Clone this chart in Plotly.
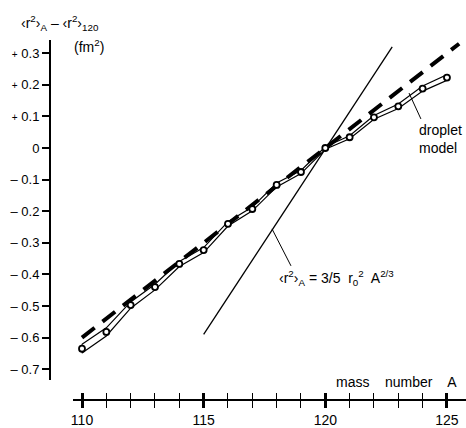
import plotly.graph_objects as go

# ---- data ----
mass_number = [110, 111, 112, 113, 114, 115, 116, 117, 118, 119, 120, 121, 122, 123, 124, 125]
delta_r2 = [-0.635, -0.582, -0.497, -0.440, -0.367, -0.323, -0.240, -0.193, -0.117, -0.076,
            0.000, 0.034, 0.097, 0.132, 0.188, 0.223]
err = [0.014, 0.013, 0.010, 0.009, 0.008, 0.008, 0.007, 0.006, 0.006, 0.005,
       0.004, 0.005, 0.006, 0.007, 0.008, 0.009]

droplet_x = [110, 125.5]
droplet_y = [-0.60, 0.33]

formula_x = [115, 122.75]
formula_y = [-0.59, 0.32]

leader_formula_x = [117.81, 118.59]
leader_formula_y = [-0.256, -0.373]
leader_droplet_x = [123.44, 123.93]
leader_droplet_y = [0.174, 0.092]

PLUS = "<span style='font-size:10px;fill:black;color:black'>+</span>"
y_ticks = [0.3, 0.2, 0.1, 0.0, -0.1, -0.2, -0.3, -0.4, -0.5, -0.6, -0.7]
y_ticktext = [PLUS + " 0.3", PLUS + " 0.2", PLUS + " 0.1", "0",
              "– 0.1", "– 0.2", "– 0.3", "– 0.4", "– 0.5", "– 0.6", "– 0.7"]
x_ticks = [110, 115, 120, 125]

FONT = "Liberation Sans"

# ---- layout geometry helpers (pixels -> paper) ----
W, H = 466, 428
ML, MR, MT, MB = 50, 0, 40, 28
PW, PH = W - ML - MR, H - MT - MB


def px(xp):
    return (xp - ML) / PW


def py(yp):
    return (H - MB - yp) / PH


fig = go.Figure()

upper = [v + e for v, e in zip(delta_r2, err)]
lower = [v - e for v, e in zip(delta_r2, err)]
band_x = mass_number + mass_number[::-1] + [mass_number[0]]
band_y = upper + lower[::-1] + [upper[0]]

# droplet model (thick dashed)
fig.add_trace(go.Scatter(x=droplet_x, y=droplet_y, mode="lines",
                         line=dict(color="black", width=4, dash="16px,10px"),
                         hoverinfo="skip", showlegend=False))
# r^2 = 3/5 r0^2 A^(2/3)
fig.add_trace(go.Scatter(x=formula_x, y=formula_y, mode="lines",
                         line=dict(color="black", width=1.3),
                         hoverinfo="skip", showlegend=False))
# leader lines
fig.add_trace(go.Scatter(x=leader_formula_x, y=leader_formula_y, mode="lines",
                         line=dict(color="black", width=1),
                         hoverinfo="skip", showlegend=False))
fig.add_trace(go.Scatter(x=leader_droplet_x, y=leader_droplet_y, mode="lines",
                         line=dict(color="black", width=1),
                         hoverinfo="skip", showlegend=False))
# error band
fig.add_trace(go.Scatter(x=band_x, y=band_y, mode="lines",
                         line=dict(color="black", width=1.2),
                         hoverinfo="skip", showlegend=False))
# data points
fig.add_trace(go.Scatter(x=mass_number, y=delta_r2, mode="markers",
                         marker=dict(symbol="circle", size=6, color="white",
                                     line=dict(color="black", width=1.8)),
                         showlegend=False))
# invisible trace for the overlay axis (inside ticks)
fig.add_trace(go.Scatter(x=[mass_number[0]], y=[delta_r2[0]], xaxis="x2", mode="markers",
                         marker=dict(opacity=0), hoverinfo="skip", showlegend=False))

x_dom = [px(73), 1]
x_range = [110 - (82 - 73) / 24.33, 110 + (466 - 82) / 24.33]
y_dom = [py(380), 1]
y_range = [(148 - 380) / 316, (148 - 40) / 316]

fig.update_layout(
    width=W, height=H,
    margin=dict(l=ML, r=MR, t=MT, b=MB),
    paper_bgcolor="white", plot_bgcolor="white",
    font=dict(family=FONT, size=14, color="black"),
    xaxis=dict(domain=x_dom, range=x_range, anchor="free", position=0,
               showline=True, linecolor="black", linewidth=2,
               showgrid=False, zeroline=False,
               tickmode="array", tickvals=x_ticks, ticktext=[str(v) for v in x_ticks],
               ticks="outside", ticklen=7, tickwidth=2.5, tickcolor="black",
               tickfont=dict(size=14, color="black"),
               minor=dict(dtick=1, tick0=110, ticks="outside", ticklen=7,
                          tickwidth=1.3, tickcolor="black", showgrid=False)),
    xaxis2=dict(domain=x_dom, range=x_range, overlaying="x", anchor="free", position=0,
                showline=False, showgrid=False, zeroline=False, showticklabels=False,
                tickmode="array", tickvals=x_ticks,
                ticks="inside", ticklen=7, tickwidth=2.5, tickcolor="black",
                minor=dict(dtick=1, tick0=110, ticks="inside", ticklen=7,
                           tickwidth=1.3, tickcolor="black", showgrid=False)),
    yaxis=dict(domain=y_dom, range=y_range, anchor="free", position=0,
               showline=True, linecolor="black", linewidth=2,
               showgrid=False, zeroline=False,
               tickmode="array", tickvals=y_ticks, ticktext=y_ticktext,
               ticks="outside", ticklen=7, tickwidth=1.5, tickcolor="black",
               tickfont=dict(size=13, color="black")),
)

annotations = [
    dict(text="‹r<sup>2</sup>›<sub>A</sub> – ‹r<sup>2</sup>›<sub>120</sub>",
         x=px(19), y=py(23), xanchor="left", yanchor="middle", font=dict(size=14)),
    dict(text="(fm<sup>2</sup>)", x=px(72), y=py(46), xanchor="left", yanchor="middle",
         font=dict(size=14)),
    dict(text="mass\u00a0\u00a0\u00a0 number\u00a0\u00a0\u00a0 A", x=px(459), y=py(382),
         xanchor="right", yanchor="middle", font=dict(size=14)),
    dict(text="‹r<sup>2</sup>›<sub>A</sub> = 3/5  r<sub>0</sub><sup>2</sup>  A<sup>2/3</sup>",
         x=px(277), y=py(278), xanchor="left", yanchor="middle", font=dict(size=14)),
    dict(text="droplet<br>model", x=px(417), y=py(139), xanchor="left", yanchor="middle",
         align="left", font=dict(size=14)),
]
for a in annotations:
    a.update(xref="paper", yref="paper", showarrow=False)
fig.update_layout(annotations=annotations)

fig.write_html("out.html")
